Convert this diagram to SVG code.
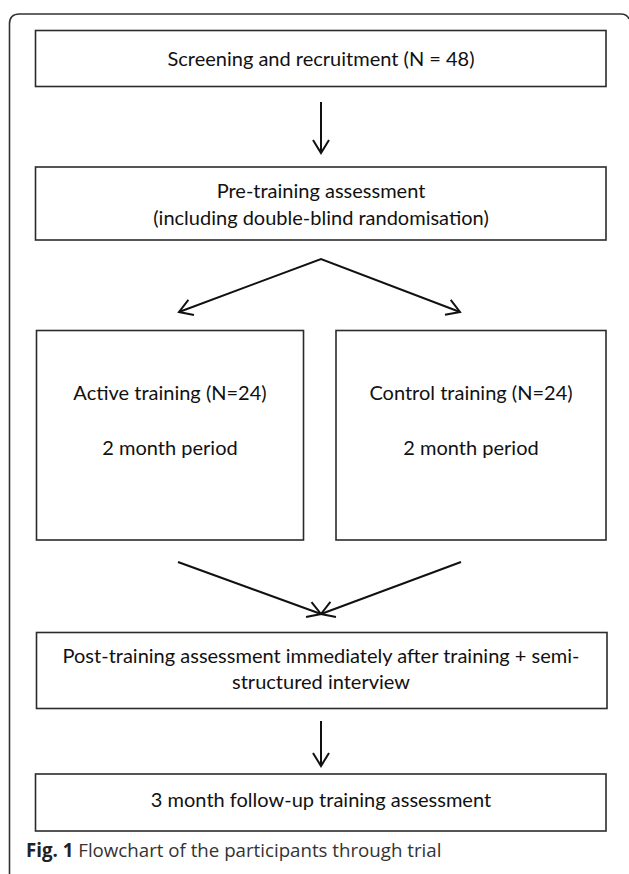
<svg xmlns="http://www.w3.org/2000/svg" width="629" height="874" viewBox="0 0 629 874">
<defs>
<style>
.box{fill:#fff;stroke:#2b2b2b;stroke-width:1.6}
.t{font-family:Lato,"Open Sans",sans-serif;font-size:20px;fill:#111;text-anchor:middle}
.c{stroke:#111;stroke-width:2;fill:none;stroke-linejoin:miter}
.cap{font-family:"Open Sans",Lato,sans-serif;font-size:18.7px;fill:#333}
</style>
<marker id="ah" viewBox="0 0 16 18" refX="14" refY="9" markerWidth="16" markerHeight="18" markerUnits="userSpaceOnUse" orient="auto-start-reverse">
<path d="M1,1 L14,9 L1,17" fill="none" stroke="#111" stroke-width="2"/>
</marker>
</defs>
<rect width="629" height="874" fill="#fff"/>
<path d="M9.5,874 V24 Q9.5,14 19.5,14 H621 Q627,14 629,19" fill="none" stroke="#333" stroke-width="1.6"/>
<g id="n1"><rect class="box" x="35.5" y="30.5" width="570.5" height="56"/><text class="t" x="321" y="66">Screening and recruitment (N = 48)</text></g>
<g id="n2"><rect class="box" x="35.5" y="167" width="570.5" height="73"/><text class="t" x="321" y="198">Pre-training assessment</text><text class="t" x="321" y="225">(including double-blind randomisation)</text></g>
<g id="n3"><rect class="box" x="36.5" y="330.5" width="267" height="209.5"/><text class="t" x="170" y="400">Active training (N=24)</text><text class="t" x="170" y="455">2 month period</text></g>
<g id="n4"><rect class="box" x="336" y="330.5" width="270" height="209.5"/><text class="t" x="471" y="400">Control training (N=24)</text><text class="t" x="471" y="455">2 month period</text></g>
<g id="n5"><rect class="box" x="36.5" y="632.5" width="570.5" height="76"/><text class="t" x="321" y="663">Post-training assessment immediately after training + semi-</text><text class="t" x="321" y="689">structured interview</text></g>
<g id="n6"><rect class="box" x="35.5" y="774" width="570.5" height="57"/><text class="t" x="321" y="807">3 month follow-up training assessment</text></g>
<g id="connectors">
<line class="c" x1="321" y1="102" x2="321" y2="153" marker-end="url(#ah)"/>
<path class="c" d="M179,312 L321,259 L460,312" marker-start="url(#ah)" marker-end="url(#ah)"/>
<line class="c" x1="178" y1="562" x2="321" y2="614" marker-end="url(#ah)"/>
<line class="c" x1="461" y1="562" x2="321" y2="614" marker-end="url(#ah)"/>
<line class="c" x1="321" y1="721" x2="321" y2="766" marker-end="url(#ah)"/>
</g>
<text class="cap" x="26" y="857"><tspan font-weight="bold" fill="#222">Fig. 1</tspan> Flowchart of the participants through trial</text>
</svg>
